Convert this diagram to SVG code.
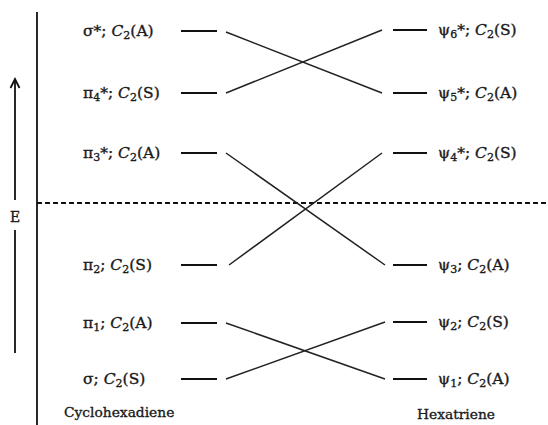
<svg xmlns="http://www.w3.org/2000/svg" width="548" height="425" viewBox="0 0 548 425">
<style>
text{font-family:"DejaVu Serif","Liberation Serif",serif;font-size:15.5px;fill:#1a1a1a;stroke:#1a1a1a;stroke-width:0.35}
.lvl{stroke:#111;stroke-width:2}
.con{stroke:#222;stroke-width:1.5;fill:none}
.ax{stroke:#111;stroke-width:1.8;fill:none}
.sub{font-size:11px}
.it{font-style:italic}
text.name{font-size:13.8px}
text.e{font-size:14px}
</style>
<rect width="548" height="425" fill="#fff"/>
<g id="axes">
<line class="ax" x1="37" y1="12" x2="37" y2="425"/>
<line class="ax" x1="37" y1="203" x2="548" y2="203" stroke-dasharray="5,3" stroke-width="1.5"/>
<line class="ax" x1="15" y1="80" x2="15" y2="200"/>
<polyline class="ax" points="10.5,88 15,79 19.5,88"/>
<line class="ax" x1="15" y1="230" x2="15" y2="353"/>
<text class="e" x="15" y="222" text-anchor="middle">E</text>
</g>
<g id="cyclohexadiene">
<g id="sigma-star"><text x="83" y="36">σ*; <tspan class="it">C</tspan><tspan class="sub" dy="3">2</tspan><tspan dy="-3">(A)</tspan></text><line class="lvl" x1="181" y1="31" x2="217" y2="31"/></g>
<g id="pi4-star"><text x="83" y="98">π<tspan class="sub" dy="3">4</tspan><tspan dy="-3">*; </tspan><tspan class="it">C</tspan><tspan class="sub" dy="3">2</tspan><tspan dy="-3">(S)</tspan></text><line class="lvl" x1="181" y1="93" x2="217" y2="93"/></g>
<g id="pi3-star"><text x="83" y="158">π<tspan class="sub" dy="3">3</tspan><tspan dy="-3">*; </tspan><tspan class="it">C</tspan><tspan class="sub" dy="3">2</tspan><tspan dy="-3">(A)</tspan></text><line class="lvl" x1="181" y1="153" x2="217" y2="153"/></g>
<g id="pi2"><text x="83" y="270">π<tspan class="sub" dy="3">2</tspan><tspan dy="-3">; </tspan><tspan class="it">C</tspan><tspan class="sub" dy="3">2</tspan><tspan dy="-3">(S)</tspan></text><line class="lvl" x1="181" y1="265" x2="217" y2="265"/></g>
<g id="pi1"><text x="83" y="328">π<tspan class="sub" dy="3">1</tspan><tspan dy="-3">; </tspan><tspan class="it">C</tspan><tspan class="sub" dy="3">2</tspan><tspan dy="-3">(A)</tspan></text><line class="lvl" x1="181" y1="323" x2="217" y2="323"/></g>
<g id="sigma"><text x="83" y="384">σ; <tspan class="it">C</tspan><tspan class="sub" dy="3">2</tspan><tspan dy="-3">(S)</tspan></text><line class="lvl" x1="181" y1="379" x2="217" y2="379"/></g>
<text class="name" x="64" y="417">Cyclohexadiene</text>
</g>
<g id="hexatriene">
<g id="psi6-star"><line class="lvl" x1="393" y1="30" x2="427" y2="30"/><text x="438" y="35">ψ<tspan class="sub" dy="3">6</tspan><tspan dy="-3">*; </tspan><tspan class="it">C</tspan><tspan class="sub" dy="3">2</tspan><tspan dy="-3">(S)</tspan></text></g>
<g id="psi5-star"><line class="lvl" x1="393" y1="93" x2="427" y2="93"/><text x="438" y="98">ψ<tspan class="sub" dy="3">5</tspan><tspan dy="-3">*; </tspan><tspan class="it">C</tspan><tspan class="sub" dy="3">2</tspan><tspan dy="-3">(A)</tspan></text></g>
<g id="psi4-star"><line class="lvl" x1="393" y1="153" x2="427" y2="153"/><text x="438" y="158">ψ<tspan class="sub" dy="3">4</tspan><tspan dy="-3">*; </tspan><tspan class="it">C</tspan><tspan class="sub" dy="3">2</tspan><tspan dy="-3">(S)</tspan></text></g>
<g id="psi3"><line class="lvl" x1="393" y1="265" x2="427" y2="265"/><text x="438" y="270">ψ<tspan class="sub" dy="3">3</tspan><tspan dy="-3">; </tspan><tspan class="it">C</tspan><tspan class="sub" dy="3">2</tspan><tspan dy="-3">(A)</tspan></text></g>
<g id="psi2"><line class="lvl" x1="393" y1="322" x2="427" y2="322"/><text x="438" y="327">ψ<tspan class="sub" dy="3">2</tspan><tspan dy="-3">; </tspan><tspan class="it">C</tspan><tspan class="sub" dy="3">2</tspan><tspan dy="-3">(S)</tspan></text></g>
<g id="psi1"><line class="lvl" x1="393" y1="379" x2="427" y2="379"/><text x="438" y="384">ψ<tspan class="sub" dy="3">1</tspan><tspan dy="-3">; </tspan><tspan class="it">C</tspan><tspan class="sub" dy="3">2</tspan><tspan dy="-3">(A)</tspan></text></g>
<text class="name" x="417" y="419">Hexatriene</text>
</g>
<g id="connectors">
<line class="con" x1="226" y1="32" x2="382" y2="93"/>
<line class="con" x1="226" y1="93" x2="382" y2="30"/>
<line class="con" x1="226" y1="153" x2="385" y2="265"/>
<line class="con" x1="229" y1="265" x2="382" y2="153"/>
<line class="con" x1="226" y1="323" x2="385" y2="379"/>
<line class="con" x1="226" y1="379" x2="385" y2="322"/>
</g>
</svg>
